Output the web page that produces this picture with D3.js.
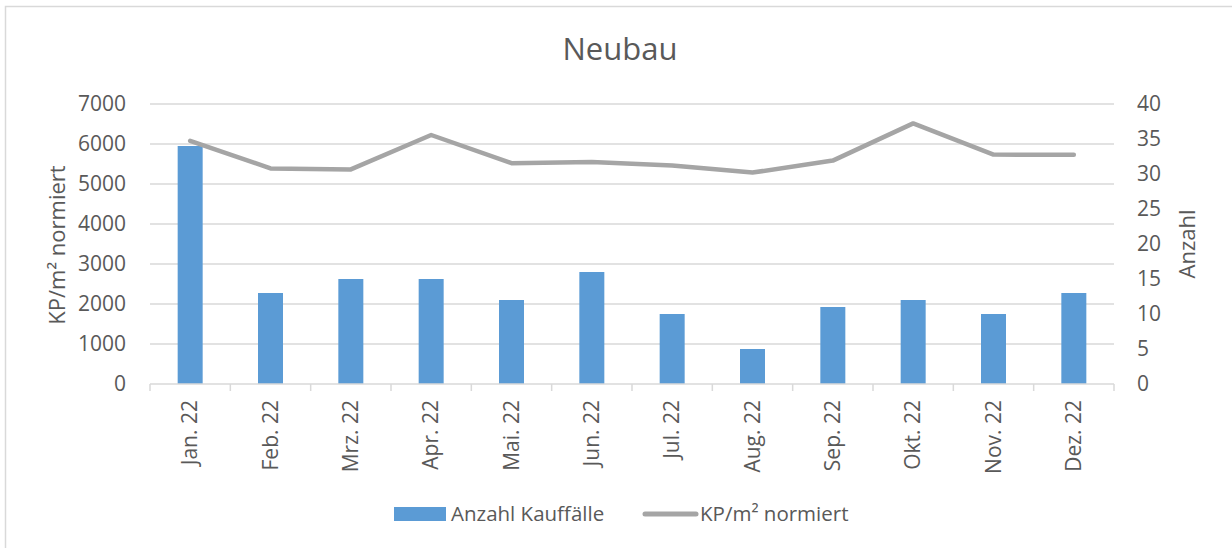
<!DOCTYPE html>
<html>
<head>
<meta charset="utf-8">
<script src="https://cdn.jsdelivr.net/npm/d3@7"></script>
<style>
  body { margin: 0; background: #fff; }
  text { font-family: "Open Sans", sans-serif; fill: #595959; }
</style>
</head>
<body>
<div id="chart"><svg width="1232" height="548"></svg></div>
<script>
// data
const months = ['Jan. 22', 'Feb. 22', 'Mrz. 22', 'Apr. 22', 'Mai. 22', 'Jun. 22',
  'Jul. 22', 'Aug. 22', 'Sep. 22', 'Okt. 22', 'Nov. 22', 'Dez. 22']
const anzahl = [34, 13, 15, 15, 12, 16, 10, 5, 11, 12, 10, 13]
const kpNormiert = [6080, 5390, 5365, 6225, 5520, 5550, 5465, 5285, 5585, 6515, 5735, 5730]
const leftTicks = [0, 1000, 2000, 3000, 4000, 5000, 6000, 7000]
const rightTicks = [0, 5, 10, 15, 20, 25, 30, 35, 40]

const margin = { left: 150, right: 118, top: 104, bottom: 164 }
const width = 1232 - margin.left - margin.right
const height = 548 - margin.top - margin.bottom

const svg = d3.select('#chart').select('svg')

// outer frame
svg.append('rect')
  .attr('x', 5.5).attr('y', 6.5)
  .attr('width', 1240).attr('height', 560)
  .attr('fill', 'none').attr('stroke', '#d9d9d9').attr('stroke-width', 1.5)

svg.append('text')
  .text('Neubau')
  .attr('x', 620).attr('y', 60)
  .attr('text-anchor', 'middle')
  .style('font-size', '31px')

const g = svg.append('g')
  .attr('transform', 'translate(' + margin.left + ',' + margin.top + ')')

const x = d3.scaleBand().domain(months).range([0, width])
const yLeft = d3.scaleLinear().domain([0, 7000]).range([height, 0])
const yRight = d3.scaleLinear().domain([0, 40]).range([height, 0])

// gridlines
g.append('g')
  .selectAll('line')
  .data(leftTicks.slice(1))
  .join('line')
  .attr('x1', 0).attr('x2', width)
  .attr('y1', d => yLeft(d)).attr('y2', d => yLeft(d))
  .attr('stroke', '#d9d9d9').attr('stroke-width', 1.5)

// left axis labels
g.append('g')
  .call(d3.axisLeft(yLeft).tickValues(leftTicks).tickFormat(d3.format('d'))
    .tickSize(0).tickPadding(24))
  .call(a => a.select('.domain').remove())
  .selectAll('text')
  .style('font-size', '21px').attr('fill', '#595959')

// right axis labels
g.append('g')
  .attr('transform', 'translate(' + width + ',0)')
  .call(d3.axisRight(yRight).tickValues(rightTicks).tickSize(0).tickPadding(23))
  .call(a => a.select('.domain').remove())
  .selectAll('text')
  .style('font-size', '21px').attr('fill', '#595959')

// bars
const barW = 25
g.append('g')
  .selectAll('rect')
  .data(anzahl)
  .join('rect')
  .attr('x', (d, i) => x(months[i]) + x.bandwidth() / 2 - barW / 2)
  .attr('y', d => yRight(d))
  .attr('width', barW)
  .attr('height', d => height - yRight(d))
  .attr('fill', '#5b9bd5')

// x axis
const xAxis = g.append('g')
  .attr('transform', 'translate(0,' + height + ')')
xAxis.append('line')
  .attr('x1', 0).attr('x2', width)
  .attr('stroke', '#d9d9d9').attr('stroke-width', 1.5)
xAxis.selectAll('.tick-mark')
  .data(d3.range(months.length + 1))
  .join('line')
  .attr('class', 'tick-mark')
  .attr('x1', i => i * x.step()).attr('x2', i => i * x.step())
  .attr('y1', 0).attr('y2', 7)
  .attr('stroke', '#d9d9d9').attr('stroke-width', 1.5)
xAxis.selectAll('.x-label')
  .data(months)
  .join('text')
  .attr('class', 'x-label')
  .text(d => d)
  .attr('text-anchor', 'end')
  .attr('transform', d => 'translate(' + (x(d) + x.bandwidth() / 2 + 7) + ',16) rotate(-90)')
  .style('font-size', '21px')

// line
const line = d3.line()
  .x((d, i) => x(months[i]) + x.bandwidth() / 2)
  .y(d => yLeft(d))
g.append('path')
  .datum(kpNormiert)
  .attr('d', line)
  .attr('fill', 'none')
  .attr('stroke', '#a5a5a5')
  .attr('stroke-width', 4.5)
  .attr('stroke-linecap', 'round')
  .attr('stroke-linejoin', 'round')

// axis titles
svg.append('text')
  .text('KP/m² normiert')
  .attr('text-anchor', 'middle')
  .attr('transform', 'translate(65,245) rotate(-90)')
  .style('font-size', '22px')
svg.append('text')
  .text('Anzahl')
  .attr('text-anchor', 'middle')
  .attr('transform', 'translate(1195,244) rotate(-90)')
  .style('font-size', '22px')

// legend
const legend = svg.append('g')
legend.append('rect')
  .attr('x', 394).attr('y', 507).attr('width', 52).attr('height', 14)
  .attr('fill', '#5b9bd5')
legend.append('text')
  .text('Anzahl Kauffälle')
  .attr('x', 451).attr('y', 521)
  .style('font-size', '20.5px')
legend.append('line')
  .attr('x1', 645).attr('x2', 696).attr('y1', 514).attr('y2', 514)
  .attr('stroke', '#a5a5a5').attr('stroke-width', 5)
  .attr('stroke-linecap', 'round')
legend.append('text')
  .text('KP/m² normiert')
  .attr('x', 700).attr('y', 521)
  .style('font-size', '20.5px')
</script>
</body>
</html>
